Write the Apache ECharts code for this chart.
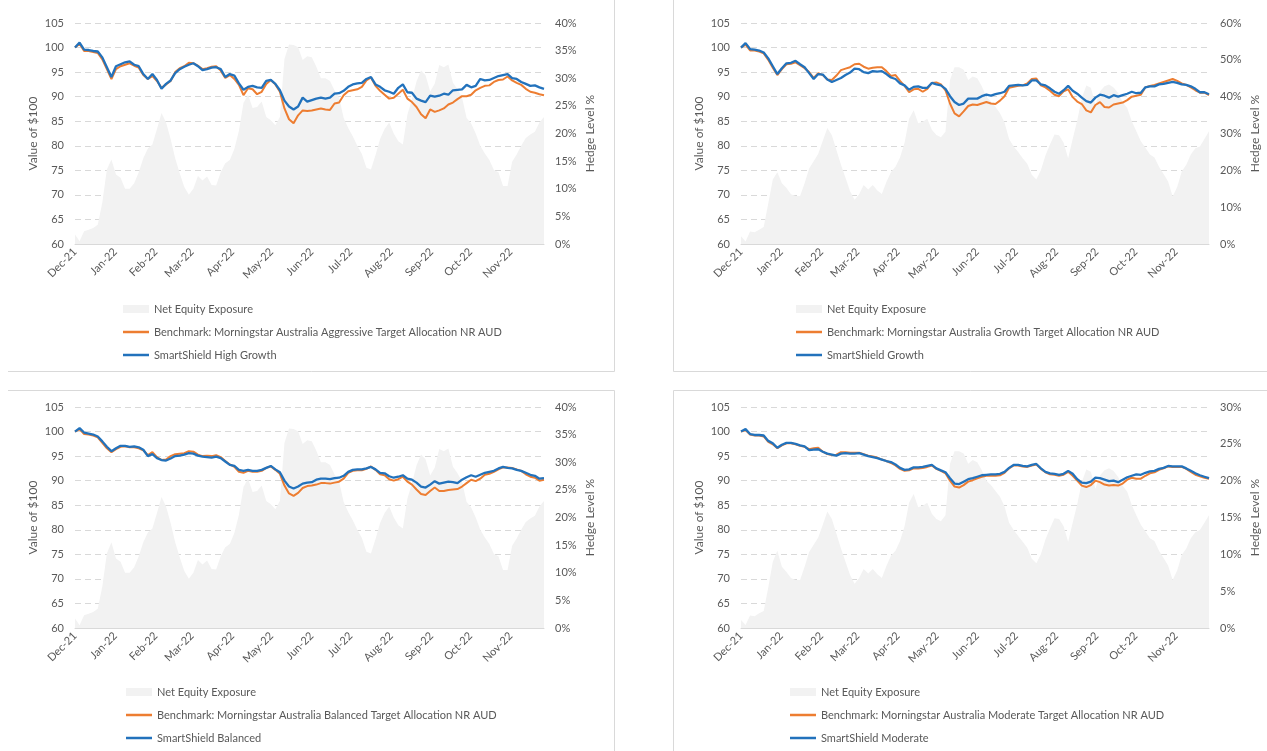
<!DOCTYPE html>
<html><head><meta charset="utf-8">
<script src="https://cdn.jsdelivr.net/npm/echarts@6/dist/echarts.min.js"></script>
<style>html,body{margin:0;padding:0;background:#fff}#c{width:1267px;height:751px}</style>
</head><body><div id="c"></div><script>
// ---- tick labels / x positions (days since 1 Dec 2021) ----
const monthLabels = ['Dec-21','Jan-22','Feb-22','Mar-22','Apr-22','May-22','Jun-22','Jul-22','Aug-22','Sep-22','Oct-22','Nov-22'];
const monthDays   = [0,31,62,90,121,151,182,212,243,274,304,335];
const sampleStepDays = 3.5; // two samples per week

// ---- High Growth ----
const hgFund = [
100.0,101.0,99.6,99.5,99.3,99.2,98.0,96.0,94.0,96.2,
96.6,97.0,97.2,96.5,96.2,94.6,93.6,94.6,93.4,91.6,
92.6,93.3,94.8,95.6,96.1,96.5,96.8,96.2,95.4,95.6,
95.9,96.0,95.6,94.0,94.6,94.3,92.7,91.4,92.0,92.2,
91.9,91.8,93.2,93.4,92.6,91.3,89.2,88.0,87.4,88.0,
89.8,89.0,89.3,89.6,89.8,89.6,89.8,90.6,90.7,91.2,
92.0,92.5,92.7,92.8,93.6,94.0,92.5,92.0,91.3,91.0,
90.6,91.8,92.5,90.9,90.8,89.6,89.2,88.9,90.2,90.0,
90.2,90.6,90.4,91.3,91.4,91.5,92.4,91.9,92.2,93.6,
93.3,93.4,93.8,94.2,94.4,94.6,93.8,93.6,93.0,92.6,
92.2,92.3,91.9,91.6];
const hgBench = [
100.0,100.8,99.3,99.3,99.1,98.9,97.6,95.6,93.6,95.6,
96.2,96.5,96.8,96.3,95.9,94.4,93.6,94.2,93.2,91.8,
92.5,93.2,95.0,95.8,96.2,96.9,96.8,96.3,95.6,95.8,
96.1,96.2,95.3,93.8,94.4,93.6,92.4,90.3,91.7,91.5,
90.5,91.0,92.6,93.4,92.5,91.0,87.6,85.4,84.6,86.2,
87.2,87.1,87.2,87.4,87.6,87.4,87.3,88.6,88.8,90.3,
91.1,91.3,91.5,92.0,93.3,93.9,92.2,91.2,90.4,89.6,
89.8,90.6,91.4,89.6,88.9,87.9,86.4,85.6,87.4,86.9,
87.2,87.6,88.4,88.8,89.5,90.1,90.1,90.4,91.3,91.8,
92.2,92.3,93.0,93.4,93.5,94.1,93.3,92.8,92.4,91.6,
91.0,90.8,90.5,90.3];
const hgHedge = [
1.7,0.5,2.3,2.6,2.9,3.5,7.5,13.5,15.3,12.6,
12.0,10.0,10.0,11.0,13.0,15.5,17.3,18.0,20.8,23.7,
22.0,19.0,15.5,12.8,10.3,8.9,10.0,12.3,11.5,12.2,
10.7,10.6,13.0,14.6,15.2,17.2,20.5,25.5,27.0,24.6,
24.8,25.8,23.0,22.4,21.5,23.0,33.5,36.1,36.0,35.6,
33.3,34.0,33.8,32.1,30.0,30.0,29.5,27.8,26.5,22.8,
21.0,19.5,17.8,16.3,13.8,13.5,16.1,19.0,20.8,22.0,
20.0,18.6,18.0,23.4,26.2,29.4,31.4,30.5,27.6,29.0,
32.4,32.0,32.5,29.2,28.0,26.5,22.8,21.8,20.0,17.8,
16.4,15.2,13.4,13.0,10.5,10.5,14.9,16.2,17.8,19.2,
19.8,20.3,22.0,23.0];

// ---- Growth ----
const gFund = [
100.0,100.9,99.7,99.6,99.4,99.0,97.8,96.2,94.6,95.8,
96.8,96.9,97.3,96.6,96.0,94.8,93.6,94.6,94.5,93.5,
93.0,93.4,93.8,94.4,94.9,95.7,95.6,95.0,94.8,95.2,
95.1,95.2,94.6,93.9,93.6,92.7,92.3,91.4,92.0,92.1,
91.8,91.8,92.8,92.5,92.3,91.6,90.1,88.9,88.3,88.6,
89.6,89.6,89.6,90.1,90.4,90.2,90.5,90.7,91.0,92.2,
92.3,92.4,92.3,92.4,93.3,93.3,92.5,92.3,91.7,91.0,
90.6,91.3,92.2,91.2,90.6,89.8,89.1,88.8,89.8,90.4,
90.2,89.8,90.3,90.0,90.3,90.6,91.0,90.7,90.8,91.9,
92.1,92.1,92.5,92.6,92.8,93.0,92.8,92.5,92.4,92.1,
91.6,90.9,90.9,90.5];
const gBench = [
100.0,100.6,99.4,99.4,99.2,98.8,97.5,95.9,94.4,95.6,
96.6,96.7,97.0,96.4,95.8,95.0,93.8,94.8,94.4,93.5,
93.4,94.3,95.4,95.7,96.0,96.6,96.7,96.1,95.7,95.9,
96.0,96.0,95.2,94.2,94.4,93.2,92.2,90.9,91.5,91.6,
91.0,91.6,92.8,92.9,92.5,91.3,88.6,86.6,86.0,87.0,
88.1,88.4,88.3,88.6,88.9,88.6,88.5,89.2,90.1,91.8,
92.0,92.2,92.3,92.7,93.6,93.7,92.3,91.9,91.2,90.4,
90.1,91.1,91.5,89.9,89.0,88.5,87.2,86.8,88.3,88.9,
87.9,87.8,88.4,88.6,88.8,89.3,90.0,90.2,90.4,91.9,
92.2,92.4,92.7,93.0,93.3,93.6,93.2,92.7,92.4,91.9,
91.3,90.8,90.8,90.3];
const gHedge = [
2.1,0.7,3.4,3.2,3.9,4.6,11.0,17.5,19.5,16.5,
15.2,13.5,13.0,13.0,16.5,20.5,22.5,24.5,28.0,31.5,
29.5,25.5,21.5,18.0,14.3,12.0,13.5,16.0,14.8,16.0,
14.5,13.6,16.8,19.5,21.0,23.5,27.5,34.0,36.3,32.8,
33.2,34.0,31.0,29.6,29.0,30.5,44.5,48.0,48.0,47.3,
44.5,45.5,45.0,42.8,40.0,38.7,37.2,35.5,33.0,28.5,
26.5,25.0,23.3,21.8,18.8,17.5,20.0,24.0,27.0,29.7,
29.5,27.5,23.3,28.5,33.5,39.6,43.0,42.4,37.8,41.4,
42.8,43.3,42.5,41.0,38.5,36.9,33.3,30.6,27.9,26.1,
24.3,23.5,21.0,19.0,17.0,12.9,15.5,19.7,21.5,24.3,
26.0,26.5,28.5,30.6];

// ---- Balanced ----
const bFund = [
100.0,100.7,99.8,99.6,99.4,99.0,98.0,96.9,96.0,96.6,
97.1,97.1,96.9,97.0,96.8,96.3,95.0,95.4,94.6,94.2,
94.1,94.5,95.0,95.1,95.3,95.6,95.5,95.1,94.9,94.8,
94.7,94.9,94.6,93.9,93.2,93.0,92.2,92.0,92.2,92.0,
92.0,92.2,92.6,93.0,92.3,91.7,90.0,88.8,88.4,88.8,
89.4,89.6,89.7,90.2,90.4,90.4,90.3,90.5,90.6,91.0,
91.8,92.2,92.3,92.3,92.5,92.8,92.3,91.6,91.5,90.9,
90.6,90.8,91.1,90.4,90.2,89.6,88.8,88.6,89.2,89.9,
89.4,89.6,89.8,89.7,89.5,90.2,90.7,91.1,90.8,91.2,
91.6,91.8,92.0,92.5,92.8,92.6,92.5,92.2,92.0,91.6,
91.2,91.0,90.4,90.5];
const bBench = [
100.0,100.5,99.5,99.4,99.2,98.8,97.7,96.6,95.8,96.4,
96.9,97.0,96.8,96.8,96.6,96.2,95.2,95.8,94.8,94.2,
94.3,95.0,95.4,95.5,95.6,96.0,95.9,95.3,95.0,95.1,
95.0,95.2,94.8,94.0,93.3,92.8,91.8,91.6,92.0,91.8,
91.8,92.0,92.6,92.9,92.2,91.4,89.0,87.4,86.9,87.5,
88.5,88.9,89.0,89.2,89.5,89.5,89.4,89.6,89.8,90.4,
91.6,92.0,92.1,92.1,92.4,92.9,92.2,91.3,91.1,90.3,
90.0,90.3,90.8,89.8,89.2,88.2,87.3,87.1,87.9,88.6,
87.9,87.9,88.1,88.2,88.3,88.8,89.5,90.2,89.9,90.4,
91.2,91.4,91.8,92.3,92.7,92.7,92.6,92.3,92.0,91.3,
90.8,90.6,90.0,90.2];
const bHedge = [
1.7,0.5,2.3,2.6,2.9,3.5,7.5,13.5,15.5,12.6,
12.0,10.0,10.0,11.0,13.0,15.5,17.3,18.0,20.8,23.7,
22.0,19.0,15.5,12.8,10.3,8.9,10.0,12.3,11.5,12.2,
10.7,10.6,13.0,14.6,15.2,17.2,20.5,25.5,27.0,24.6,
24.8,25.8,23.0,22.4,21.5,23.0,33.5,36.1,36.0,35.6,
33.3,34.0,33.8,32.1,30.0,30.0,29.5,27.8,26.5,22.8,
21.0,19.5,17.8,16.3,13.8,13.5,16.1,19.0,20.8,22.0,
20.0,18.6,18.0,23.4,26.2,29.4,31.4,30.5,27.6,29.0,
32.4,32.0,32.5,29.2,28.0,26.5,22.8,21.8,20.0,17.8,
16.4,15.2,13.4,13.0,10.5,10.5,14.9,16.2,17.8,19.2,
19.8,20.3,22.0,23.0];

// ---- Moderate ----
const mFund = [
100.0,100.5,99.5,99.3,99.3,99.2,98.1,97.6,96.7,97.3,
97.7,97.7,97.5,97.2,97.0,96.2,96.3,96.4,95.9,95.5,
95.3,95.1,95.5,95.6,95.5,95.5,95.6,95.3,95.0,94.8,
94.6,94.3,94.0,93.8,93.3,92.6,92.2,92.3,92.7,92.7,
92.8,93.0,93.2,92.5,92.1,91.7,90.5,89.4,89.3,89.8,
90.3,90.5,90.8,91.1,91.2,91.3,91.3,91.4,91.8,92.6,
93.2,93.2,93.0,92.9,93.2,93.4,92.5,91.8,91.5,91.4,
91.2,91.4,92.0,91.4,90.3,89.6,89.5,89.8,90.6,90.5,
90.2,89.9,90.0,89.7,90.2,90.7,91.0,91.3,91.2,91.6,
91.9,92.0,92.4,92.6,93.0,92.9,92.9,92.9,92.5,92.0,
91.5,91.1,90.8,90.5];
const mBench = [
100.0,100.3,99.4,99.2,99.2,99.0,97.9,97.4,96.6,97.2,
97.6,97.6,97.4,97.1,96.9,96.4,96.6,96.7,95.9,95.4,
95.2,95.3,95.8,95.8,95.7,95.7,95.7,95.4,95.1,94.9,
94.7,94.3,94.0,93.6,93.1,92.4,92.0,92.1,92.5,92.5,
92.6,92.8,93.1,92.4,92.0,91.5,90.0,88.8,88.6,89.1,
89.8,90.1,90.5,90.8,91.0,91.0,91.0,91.1,91.6,92.5,
93.1,93.1,92.9,92.8,93.1,93.3,92.4,91.7,91.3,91.2,
91.0,91.2,91.8,91.0,90.0,89.0,88.7,89.1,90.0,89.7,
89.2,89.0,89.1,89.0,89.4,90.2,90.6,90.4,90.4,91.0,
91.5,91.7,92.2,92.5,92.9,92.8,92.8,92.8,92.4,91.8,
91.2,90.9,90.6,90.4];
const mHedge = [
1.1,0.4,1.7,1.6,2.0,2.3,5.5,9.0,10.5,8.3,
7.6,6.8,6.5,6.5,8.3,10.3,11.3,12.3,14.0,15.8,
14.8,12.8,10.8,9.0,7.2,6.0,6.8,8.0,7.4,8.0,
7.3,6.8,8.4,9.8,10.5,11.8,13.8,17.0,18.2,16.4,
16.6,17.0,15.5,14.8,14.5,15.3,22.3,24.0,24.0,23.7,
22.3,22.8,22.5,21.4,20.0,19.4,18.6,17.8,16.5,14.3,
13.3,12.5,11.7,10.9,9.4,8.8,10.0,12.0,13.5,14.9,
14.8,13.8,11.7,14.3,16.8,19.8,21.5,21.2,18.9,20.7,
21.4,21.7,21.3,20.5,19.3,18.5,16.7,15.3,14.0,13.1,
12.2,11.8,10.5,9.5,8.5,6.5,7.8,9.9,10.8,12.2,
13.0,13.3,14.3,15.3];

const panels = [
  {fund:hgFund, bench:hgBench, hedge:hgHedge, fundName:'SmartShield High Growth',
   benchName:'Benchmark: Morningstar Australia Aggressive Target Allocation NR AUD',
   hedgeMax:40, hedgeStep:5, left:75, top:23, width:469, legendLeft:123, legendTop:302},
  {fund:gFund, bench:gBench, hedge:gHedge, fundName:'SmartShield Growth',
   benchName:'Benchmark: Morningstar Australia Growth Target Allocation NR AUD',
   hedgeMax:60, hedgeStep:10, left:741, top:23, width:468, legendLeft:796, legendTop:302},
  {fund:bFund, bench:bBench, hedge:bHedge, fundName:'SmartShield Balanced',
   benchName:'Benchmark: Morningstar Australia Balanced Target Allocation NR AUD',
   hedgeMax:40, hedgeStep:5, left:75, top:407, width:469, legendLeft:126, legendTop:685},
  {fund:mFund, bench:mBench, hedge:mHedge, fundName:'SmartShield Moderate',
   benchName:'Benchmark: Morningstar Australia Moderate Target Allocation NR AUD',
   hedgeMax:30, hedgeStep:5, left:741, top:407, width:468, legendLeft:790, legendTop:685}
];

const TXT = '#595959';
const FONT = 'Lato, "Liberation Sans", sans-serif';
const GRID = '#d9d9d9';
const BLUE = '#2272BC';
const ORANGE = '#ED7D31';
const AREA = '#F2F2F2';

const pairs = arr => arr.map((v, i) => [i * sampleStepDays, v]);
const lastDay = (hgFund.length - 1) * sampleStepDays;

const legendText = {color:TXT, fontSize:11, fontFamily:FONT, lineHeight:14};
const grid = [], xAxis = [], yAxis = [], series = [], legend = [];
panels.forEach((p, k) => {
  grid.push({left:p.left, top:p.top, width:p.width, height:221, containLabel:false});
  xAxis.push({
    type:'value', gridIndex:k, min:0, max:lastDay,
    axisLine:{show:true, onZero:false, lineStyle:{color:GRID, width:1}},
    axisTick:{show:false}, splitLine:{show:false},
    axisLabel:{customValues:monthDays, rotate:45, margin:6, color:TXT, fontSize:11, fontFamily:FONT,
      formatter: v => monthLabels[monthDays.indexOf(v)] || ''}
  });
  yAxis.push({
    type:'value', gridIndex:k, min:60, max:105, interval:5, position:'left',
    axisLine:{show:false}, axisTick:{show:false},
    splitLine:{show:true, lineStyle:{color:GRID, width:1, type:[6,4]}},
    axisLabel:{color:TXT, fontSize:11, margin:11, fontFamily:FONT},
    name:'Value of $100', nameLocation:'middle', nameRotate:90, nameGap:36,
    nameTextStyle:{color:TXT, fontSize:12, fontFamily:FONT}
  });
  yAxis.push({
    type:'value', gridIndex:k, min:0, max:p.hedgeMax, interval:p.hedgeStep, position:'right',
    axisLine:{show:false}, axisTick:{show:false}, splitLine:{show:false},
    axisLabel:{color:TXT, fontSize:11, margin:11, fontFamily:FONT, formatter:'{value}%'},
    name:'Hedge Level %', nameLocation:'middle', nameRotate:90, nameGap:40,
    nameTextStyle:{color:TXT, fontSize:12, fontFamily:FONT}
  });
  series.push({
    type:'line', name:'Net Equity Exposure', xAxisIndex:k, yAxisIndex:2*k+1,
    data:pairs(p.hedge), symbol:'none', silent:true, z:1,
    lineStyle:{width:0, color:AREA}, itemStyle:{color:AREA},
    areaStyle:{color:AREA, opacity:1}
  });
  series.push({
    type:'line', name:p.benchName, xAxisIndex:k, yAxisIndex:2*k,
    data:pairs(p.bench), symbol:'none', z:3,
    lineStyle:{width:2, color:ORANGE}, itemStyle:{color:ORANGE}
  });
  series.push({
    type:'line', name:p.fundName, xAxisIndex:k, yAxisIndex:2*k,
    data:pairs(p.fund), symbol:'none', z:4,
    lineStyle:{width:2.3, color:BLUE}, itemStyle:{color:BLUE}
  });
  // area legend row (tall box)
  legend.push({
    orient:'vertical', left:p.legendLeft, top:p.legendTop, padding:0,
    itemWidth:26, itemHeight:8, itemGap:9, selectedMode:false, textStyle:legendText,
    data:[{name:'Net Equity Exposure', icon:'rect'}]
  });
  // line legend rows (thin bars)
  legend.push({
    orient:'vertical', left:p.legendLeft, top:p.legendTop + 23, padding:0,
    itemWidth:26, itemHeight:2.5, itemGap:9, selectedMode:false, textStyle:legendText,
    data:[{name:p.benchName, icon:'rect'}, {name:p.fundName, icon:'rect'}]
  });
});

const border = (x1, y1, x2, y2) => ({type:'line', silent:true,
  shape:{x1, y1, x2, y2}, style:{stroke:GRID, lineWidth:1}});

const chart = echarts.init(document.getElementById('c'), null, {renderer:'canvas'});
chart.setOption({
  animation:false,
  backgroundColor:'#ffffff',
  textStyle:{fontFamily:FONT},
  grid, xAxis, yAxis, series, legend,
  graphic:[
    border(614.5, 0, 614.5, 371.5), border(8, 371.5, 614.5, 371.5),
    border(673.5, 0, 673.5, 371.5), border(673.5, 371.5, 1267, 371.5),
    border(8, 390.5, 614.5, 390.5), border(614.5, 390.5, 614.5, 751),
    border(673.5, 390.5, 1267, 390.5), border(673.5, 390.5, 673.5, 751)
  ]
});
</script></body></html>
